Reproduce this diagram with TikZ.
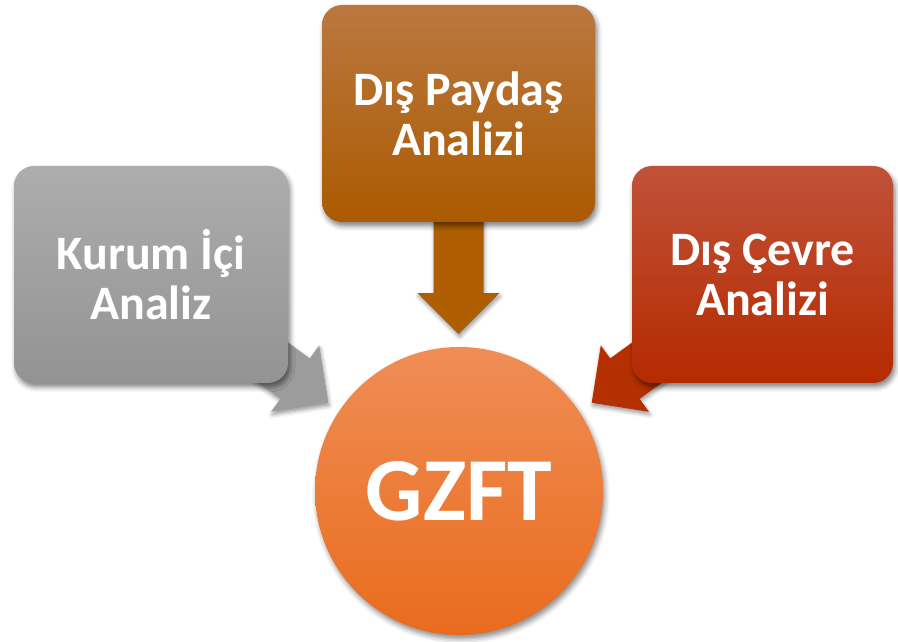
\documentclass[tikz,border=0pt]{standalone}
\usepackage{fontspec}
\setmainfont{Carlito}
\usetikzlibrary{calc,shadows.blur,backgrounds}

\definecolor{icTop}{HTML}{ADADAD}
\definecolor{icBot}{HTML}{939393}
\definecolor{icArrow}{HTML}{9C9C9C}
\definecolor{pdTop}{HTML}{BA7840}
\definecolor{pdBot}{HTML}{AB5A00}
\definecolor{pdArrow}{HTML}{AE5E00}
\definecolor{cvTop}{HTML}{C05239}
\definecolor{cvBot}{HTML}{B52A00}
\definecolor{cvArrow}{HTML}{B53000}
\definecolor{gzTop}{HTML}{F08D56}
\definecolor{gzBot}{HTML}{E96C1D}

\tikzset{
  analysis/.style={rounded corners=20pt, minimum height=217pt, inner sep=0pt,
    align=center, text=white, font=\fontsize{48}{50}\selectfont\bfseries,
    blur shadow={shadow xshift=2pt, shadow yshift=-4pt,
      shadow blur radius=5pt, shadow opacity=50}},
  fatarrow/.style={blur shadow={shadow xshift=1pt, shadow yshift=-3pt,
      shadow blur radius=4pt, shadow opacity=40}}
}

\begin{document}
\begin{tikzpicture}[x=1pt,y=1pt]
  \useasboundingbox (0,0) rectangle (898,641);

  % the three analysis boxes
  \node[analysis, minimum width=274pt, top color=icTop, bottom color=icBot]
    (ic) at (151,366.5) {Kurum İçi\\Analiz};
  \node[analysis, minimum width=273pt, top color=pdTop, bottom color=pdBot]
    (pd) at (458.5,527.5) {Dış Paydaş\\Analizi};
  \node[analysis, minimum width=261pt, top color=cvTop, bottom color=cvBot]
    (cv) at (762.5,366.5) {Dış Çevre\\Analizi};

  % result
  \node[circle, minimum size=288pt, inner sep=0pt, text=white,
    font=\fontsize{90}{90}\selectfont\bfseries,
    top color=gzTop, bottom color=gzBot,
    blur shadow={shadow xshift=2pt, shadow yshift=-4pt,
      shadow blur radius=5pt, shadow opacity=45}]
    (gz) at (459,150) {GZFT};

  % fat arrows, behind the boxes
  \begin{scope}[on background layer]
    \begin{scope}[shift={($(ic.south east)+(-57,51)$)}, rotate=-36]
      \fill[icArrow, fatarrow]
        (0,-25) -- (79,-25) -- (79,-41) -- (120,0) -- (79,41) -- (79,25) -- (0,25) -- cycle;
    \end{scope}
    \begin{scope}[shift={($(pd.south)+(0,10)$)}, rotate=-90]
      \fill[pdArrow, fatarrow]
        (0,-25) -- (81,-25) -- (81,-41) -- (122,0) -- (81,41) -- (81,25) -- (0,25) -- cycle;
    \end{scope}
    \begin{scope}[shift={($(cv.south west)+(57,51)$)}, rotate=216]
      \fill[cvArrow, fatarrow]
        (0,-25) -- (79,-25) -- (79,-41) -- (120,0) -- (79,41) -- (79,25) -- (0,25) -- cycle;
    \end{scope}
  \end{scope}
\end{tikzpicture}
\end{document}
